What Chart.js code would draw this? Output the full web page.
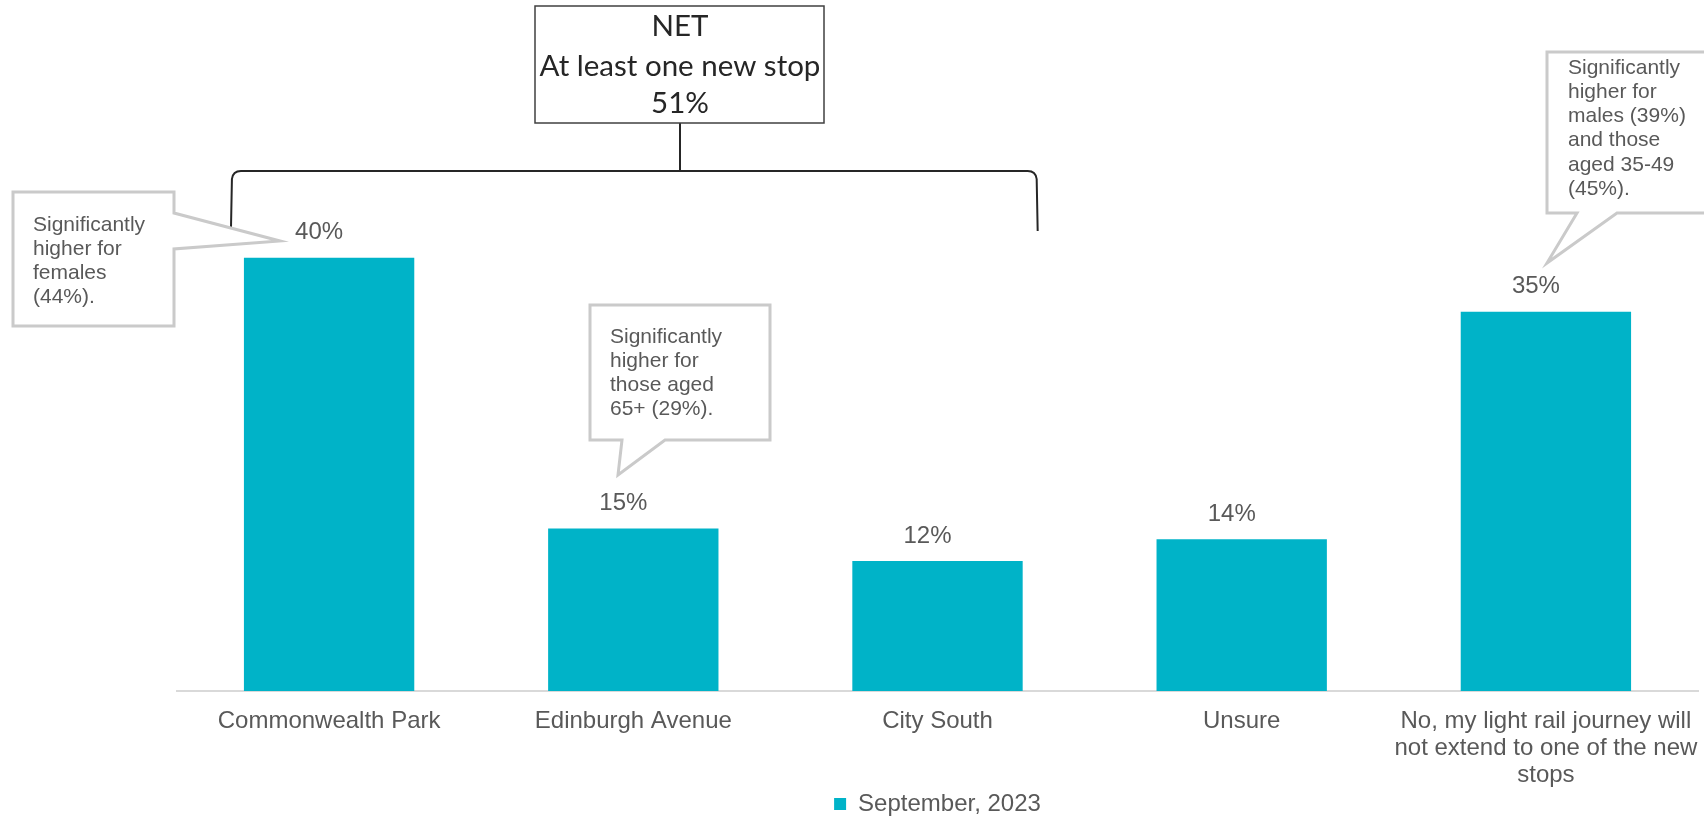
<!DOCTYPE html>
<html>
<head>
<meta charset="utf-8">
<title>New light rail stops</title>
<script src="https://cdn.jsdelivr.net/npm/chart.js@4.4.0/dist/chart.umd.min.js"></script>
<style>
  html, body { margin: 0; padding: 0; background: #fff; }
  #wrap { width: 1704px; height: 817px; }
</style>
</head>
<body>
<div id="wrap"><canvas id="stopsChart" width="1704" height="817"></canvas></div>
<script>
// Chart data
const categories = [
  'Commonwealth Park',
  'Edinburgh Avenue',
  'City South',
  'Unsure',
  ['No, my light rail journey will', 'not extend to one of the new', 'stops']
];
const septemberValues = [40, 15, 12, 14, 35];
const seriesLabel = 'September, 2023';

// Text for the NET box and the notes
const netLines = ['NET', 'At least one new stop', '51%'];
const femaleNote = ['Significantly', 'higher for', 'females', '(44%).'];
const agedNote = ['Significantly', 'higher for', 'those aged', '65+ (29%).'];
const maleNote = ['Significantly', 'higher for', 'males (39%)', 'and those', 'aged 35-49', '(45%).'];

const TEAL = '#00B3C8';
const GREY_TEXT = '#595959';

Chart.defaults.font.family = '"Liberation Sans", Arial, sans-serif';
Chart.defaults.color = GREY_TEXT;

// speech-bubble boxes drawn on top of the chart
const notes = [
  { lines: femaleNote, left: 13, top: 192, right: 174, bottom: 326, side: 'right', base: [213, 249], tip: [280, 241], textX: 33, firstLine: 225 },
  { lines: agedNote, left: 590, top: 305, right: 770, bottom: 440, side: 'bottom', base: [622, 665], tip: [618, 475], textX: 610, firstLine: 337 },
  { lines: maleNote, left: 1547, top: 52, right: 1720, bottom: 213, side: 'bottom', base: [1577, 1617], tip: [1547, 263], textX: 1568, firstLine: 68 }
];

function drawNote(ctx, n) {
  ctx.beginPath();
  ctx.moveTo(n.left, n.top);
  ctx.lineTo(n.right, n.top);
  if (n.side === 'right') {
    ctx.lineTo(n.right, n.base[0]);
    ctx.lineTo(n.tip[0], n.tip[1]);
    ctx.lineTo(n.right, n.base[1]);
    ctx.lineTo(n.right, n.bottom);
    ctx.lineTo(n.left, n.bottom);
  } else {
    ctx.lineTo(n.right, n.bottom);
    ctx.lineTo(n.base[1], n.bottom);
    ctx.lineTo(n.tip[0], n.tip[1]);
    ctx.lineTo(n.base[0], n.bottom);
    ctx.lineTo(n.left, n.bottom);
  }
  ctx.closePath();
  ctx.fillStyle = '#fff';
  ctx.fill();
  ctx.lineWidth = 3;
  ctx.strokeStyle = '#cacaca';
  ctx.stroke();

  ctx.fillStyle = GREY_TEXT;
  ctx.font = '21px "Liberation Sans", Arial, sans-serif';
  ctx.textAlign = 'left';
  ctx.textBaseline = 'middle';
  n.lines.forEach((line, i) => ctx.fillText(line, n.textX, n.firstLine + i * 24.2));
}

// value labels above each bar (sit a little left of the bar centre)
const barValueLabels = {
  id: 'barValueLabels',
  afterDatasetsDraw(chart) {
    const ctx = chart.ctx;
    const meta = chart.getDatasetMeta(0);
    ctx.save();
    ctx.font = '24px "Liberation Sans", Arial, sans-serif';
    ctx.fillStyle = GREY_TEXT;
    ctx.textAlign = 'center';
    ctx.textBaseline = 'middle';
    meta.data.forEach((bar, i) => {
      ctx.fillText(septemberValues[i] + '%', bar.x - 10, bar.y - 25);
    });
    ctx.restore();
  }
};

// NET box, bracket over the three stops and the notes
const annotations = {
  id: 'annotations',
  afterDraw(chart) {
    const ctx = chart.ctx;
    const bars = chart.getDatasetMeta(0).data;
    ctx.save();

    // bracket grouping the three new stops
    const left = bars[0].x - bars[0].width / 2 - 12;
    const right = bars[2].x + bars[2].width / 2 + 14;
    const top = 171, bottom = 231;
    ctx.beginPath();
    ctx.moveTo(left - 1, bottom);
    ctx.lineTo(left, top + 8);
    ctx.quadraticCurveTo(left + 1, top, left + 9, top);
    ctx.lineTo(right - 9, top);
    ctx.quadraticCurveTo(right - 1, top, right, top + 8);
    ctx.lineTo(right + 1, bottom);
    ctx.lineWidth = 2;
    ctx.strokeStyle = '#262626';
    ctx.stroke();

    // connector up to the NET box
    ctx.beginPath();
    ctx.moveTo(680, top);
    ctx.lineTo(680, 123);
    ctx.stroke();

    // NET box
    ctx.fillStyle = '#fff';
    ctx.fillRect(535, 6, 289, 117);
    ctx.lineWidth = 1.5;
    ctx.strokeStyle = '#404040';
    ctx.strokeRect(535, 6, 289, 117);
    ctx.fillStyle = '#262626';
    ctx.font = '29.5px Lato, "Open Sans", sans-serif';
    ctx.textAlign = 'center';
    ctx.textBaseline = 'alphabetic';
    [36, 76, 113].forEach((y, i) => ctx.fillText(netLines[i], 680, y));

    notes.forEach(n => drawNote(ctx, n));
    ctx.restore();
  }
};

const ctx = document.getElementById('stopsChart').getContext('2d');
const chart = new Chart(ctx, {
  type: 'bar',
  data: {
    labels: categories,
    datasets: [{
      label: seriesLabel,
      data: septemberValues,
      backgroundColor: TEAL,
      categoryPercentage: 1,
      barPercentage: 0.56
    }]
  },
  options: {
    responsive: false,
    animation: false,
    devicePixelRatio: 1,
    layout: { padding: { top: 41, left: 177, right: 6, bottom: -9 } },
    plugins: {
      legend: {
        position: 'bottom',
        fullSize: false,
        labels: {
          boxWidth: 12,
          boxHeight: 12,
          padding: 2,
          color: GREY_TEXT,
          font: { size: 24 }
        }
      },
      tooltip: { enabled: false }
    },
    scales: {
      x: {
        grid: { display: false, drawTicks: false },
        border: { color: '#d9d9d9', width: 2 },
        ticks: {
          color: GREY_TEXT,
          font: { size: 24, lineHeight: 1.13 },
          padding: 17,
          maxRotation: 0,
          autoSkip: false
        },
        afterFit(scale) {
          // fixed band for the category labels; the long last label may run to the edge
          scale.height = 99;
          scale.paddingLeft = 0;
          scale.paddingRight = 0;
        }
      },
      y: {
        display: false,
        min: 0,
        max: 60
      }
    }
  },
  plugins: [barValueLabels, annotations]
});
</script>
</body>
</html>
